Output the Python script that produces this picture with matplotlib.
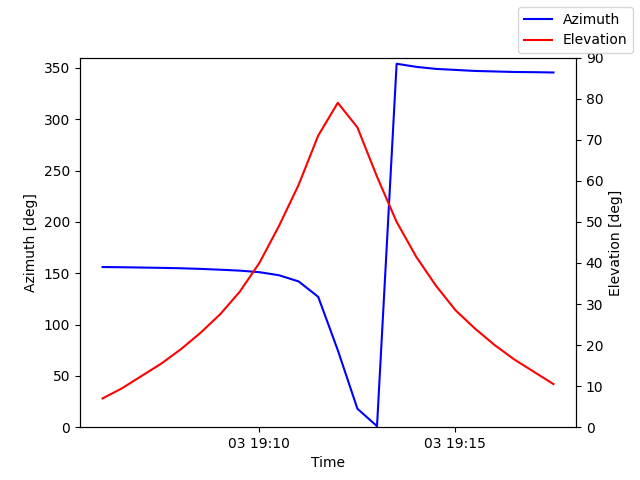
import numpy as np
import pandas as pd
import matplotlib
matplotlib.use("Agg")
import matplotlib.pyplot as plt

# pass samples every 30 s
times = pd.date_range("2024-01-03 19:06:00", periods=24, freq="30s")
azimuth = [156, 155.8, 155.5, 155.2, 154.8, 154.2, 153.4, 152.5, 151, 148, 142, 127,
           75, 18, 1, 354, 351, 349, 348, 347, 346.5, 346, 345.8, 345.5]
elevation = [7, 9.5, 12.5, 15.5, 19, 23, 27.5, 33, 40, 49, 59, 71,
             79, 73, 61, 50, 41.5, 34.5, 28.5, 24, 20, 16.5, 13.5, 10.5]

fig, ax1 = plt.subplots(figsize=(6.4, 4.8), dpi=100)
ax1.plot(times, azimuth, color="b", label="Azimuth")
ax1.set_ylim(0, 360)
ax1.set_xlabel("Time")
ax1.set_ylabel("Azimuth [deg]")

ax2 = ax1.twinx()
ax2.plot(times, elevation, color="r", label="Elevation")
ax2.set_ylim(0, 90)
ax2.set_ylabel("Elevation [deg]")

fig.legend(loc="upper right")
fig.savefig("out.png")
